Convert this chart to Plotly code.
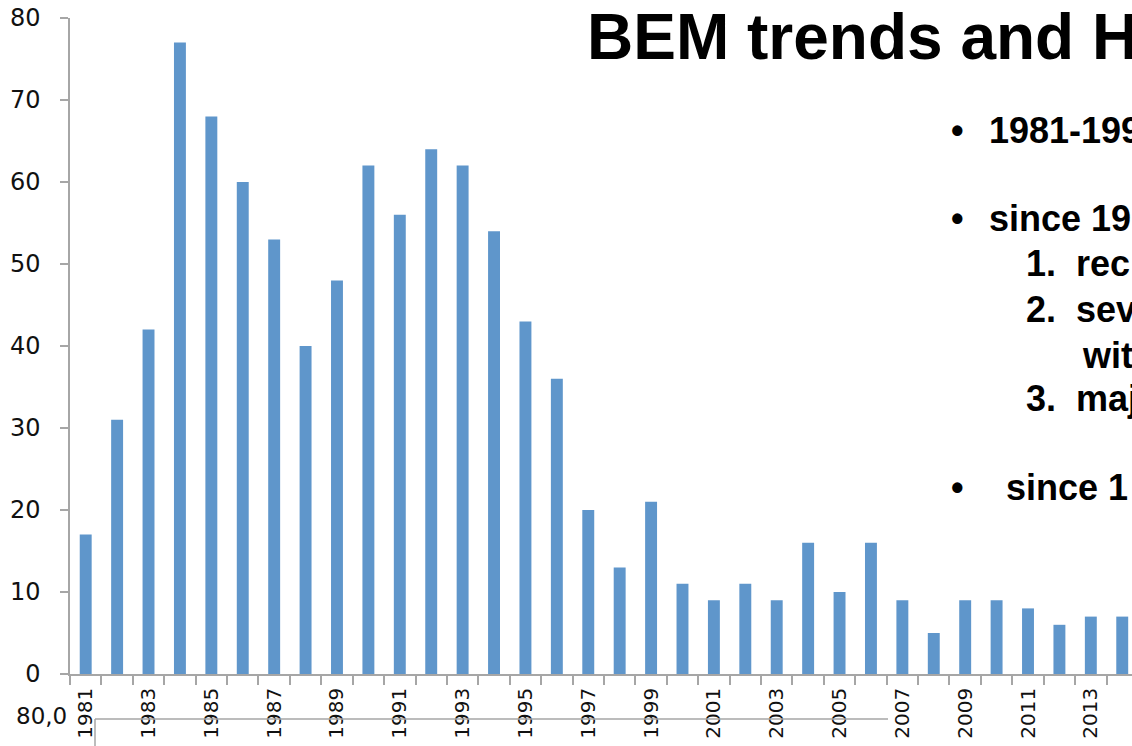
import plotly.graph_objects as go

# Yearly counts
years = list(range(1981, 2015))
counts = [17, 31, 42, 77, 68, 60, 53, 40, 48, 62, 56, 64, 62, 54, 43, 36,
          20, 13, 21, 11, 9, 11, 9, 16, 10, 16, 9, 5, 9, 9, 8, 6, 7, 7]
label_years = list(range(1981, 2015, 2))
y_ticks = [0, 10, 20, 30, 40, 50, 60, 70, 80]

W, H = 1132, 746
L, R, T, B = 70, 0, 18, 72
PW, PH = W - L - R, H - T - B
BAR_COLOR = "#5f96cb"
AXIS_COLOR = "#a6a6a6"
AXIS_FAMILY = "DejaVu Sans, sans-serif"
SLIDE_FONT = "Liberation Sans, Arial, sans-serif"


def px(x):
    return (x - L) / PW


def py(y):
    return (H - B - y) / PH


fig = go.Figure(
    go.Bar(x=years, y=counts, width=0.38, marker=dict(color=BAR_COLOR, line=dict(width=0)))
)

fig.update_layout(
    width=W, height=H,
    margin=dict(l=L, r=R, t=T, b=B, autoexpand=False),
    paper_bgcolor="white", plot_bgcolor="white",
    font=dict(family=AXIS_FAMILY, size=20, color="#111111"),
    showlegend=False,
)
fig.update_xaxes(
    range=[1980.5, 1980.5 + PW / 31.41], automargin=False,
    tickmode="array", tickvals=label_years, ticktext=[str(v) for v in label_years],
    tickangle=-90, ticks="",
    tickfont=dict(family=AXIS_FAMILY, size=20, color="#111111"),
    showline=True, linecolor=AXIS_COLOR, linewidth=1.5,
    showgrid=False, zeroline=False,
    ticklabelstandoff=4,
    minor=dict(tick0=1980.5, dtick=1, ticks="outside", ticklen=9,
               tickcolor=AXIS_COLOR, tickwidth=1.5, showgrid=False),
)
fig.update_yaxes(
    range=[0, 80], tickmode="array", tickvals=y_ticks, automargin=False,
    ticks="outside", ticklen=8, tickcolor=AXIS_COLOR, tickwidth=1.5,
    tickfont=dict(family=AXIS_FAMILY, size=24, color="#111111"),
    showline=True, linecolor=AXIS_COLOR, linewidth=1.5,
    showgrid=False, zeroline=False, ticklabelstandoff=15,
)

# Slide heading and bullet lines on the right
fig.add_annotation(text="<b>BEM trends and H</b>", x=px(585), y=py(37),
                   xref="paper", yref="paper", xanchor="left", yanchor="middle",
                   showarrow=False, font=dict(family=SLIDE_FONT, size=64, color="black"))

slide_lines = [
    ("•", 949, 130), ("1981-199", 987, 130),
    ("•", 949, 218), ("since 19", 987, 218),
    ("1.", 1024, 263), ("rec", 1074, 263),
    ("2.", 1024, 310), ("sev", 1074, 310),
    ("wit", 1080, 355),
    ("3.", 1024, 398), ("maj", 1074, 398),
    ("•", 949, 487), ("since 1", 1004, 487),
]
for txt, xp, yp in slide_lines:
    fig.add_annotation(text=f"<b>{txt}</b>", x=px(xp), y=py(yp),
                       xref="paper", yref="paper", xanchor="left", yanchor="middle",
                       showarrow=False, font=dict(family=SLIDE_FONT, size=36, color="black"))

# Fragment of a second axis below the chart
fig.add_annotation(text="80,0", x=px(69), y=py(716), xref="paper", yref="paper",
                   xanchor="right", yanchor="middle", showarrow=False,
                   font=dict(family=AXIS_FAMILY, size=23, color="#111111"))
fig.add_shape(type="line", xref="paper", yref="paper",
              x0=px(95), x1=px(888), y0=py(719), y1=py(719),
              line=dict(color=AXIS_COLOR, width=1.5))
fig.add_shape(type="line", xref="paper", yref="paper",
              x0=px(95), x1=px(95), y0=py(719), y1=py(746),
              line=dict(color=AXIS_COLOR, width=1.5))

fig.write_html("out.html")
